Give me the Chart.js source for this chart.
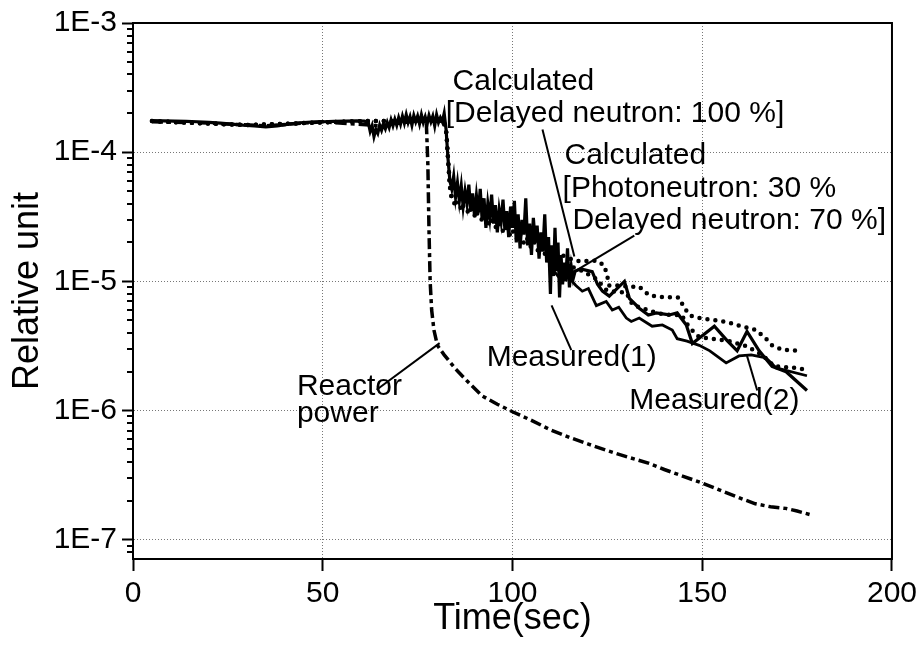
<!DOCTYPE html>
<html>
<head>
<meta charset="utf-8">
<script src="https://cdn.jsdelivr.net/npm/chart.js@4.4.1/dist/chart.umd.min.js"></script>
<style>
  html, body { margin: 0; padding: 0; background: #fff; }
  canvas { display: block; }
</style>
</head>
<body>
<canvas id="chart" width="922" height="647"></canvas>
<script>
// axis setup
const xTicks = [0, 50, 100, 150, 200];
const yDecades = [1e-7, 1e-6, 1e-5, 1e-4, 1e-3];
const yTickLabels = ['1E-7', '1E-6', '1E-5', '1E-4', '1E-3'];
const yMin = 7.1e-8, yMax = 1e-3;

// [time (sec), relative unit]
const measured1 = [
  [5,1.76e-4],[8,1.75e-4],[11,1.74e-4],[14,1.73e-4],[17,1.72e-4],[20,1.7e-4],[23,1.68e-4],[26,1.65e-4],
  [29,1.62e-4],[32,1.6e-4],[35,1.57e-4],[38,1.6e-4],[41,1.65e-4],[44,1.69e-4],[47,1.71e-4],[50,1.72e-4],
  [53,1.73e-4],[56,1.74e-4],[59,1.75e-4],[61,1.74e-4],[62,1.7e-4],
  [62.5,1.45e-4],[63,1.6e-4],[63.5,1.32e-4],[64,1.5e-4],[64.5,1.4e-4],[65,1.62e-4],[65.5,1.48e-4],[66,1.65e-4],
  [66.5,1.52e-4],[67,1.7e-4],[67.5,1.55e-4],[68,1.78e-4],[68.5,1.6e-4],[69,1.8e-4],[69.5,1.62e-4],[70,1.85e-4],
  [70.5,1.65e-4],[71,1.9e-4],[71.5,1.68e-4],[72,1.95e-4],[72.5,1.7e-4],[73,1.88e-4],[73.5,1.62e-4],[74,1.92e-4],
  [74.5,1.72e-4],[75,1.9e-4],[75.5,1.66e-4],[76,1.95e-4],[76.5,1.7e-4],[77,1.88e-4],[77.5,1.65e-4],[78,1.92e-4],
  [78.5,1.72e-4],[79,1.9e-4],[79.5,1.6e-4],[80,1.95e-4],[80.5,1.7e-4],[81,1.85e-4],[81.5,1.72e-4],[82,2.0e-4],
  [82.5,1.5e-4],[83,9.0e-5],[83.5,6.0e-5],
  [84,5.2e-5],[84.5,6.5e-5],[85,4.5e-5],[85.5,5.8e-5],[86,4.2e-5],[86.5,5.5e-5],[87,3.8e-5],[87.5,5.0e-5],
  [88,4.0e-5],[88.5,5.6e-5],[89,3.5e-5],[89.5,4.8e-5],[90,3.2e-5],[90.5,4.6e-5],[91,3.4e-5],[91.5,5.2e-5],
  [92,3.0e-5],[92.5,4.4e-5],[93,2.6e-5],[93.5,4.0e-5],[94,3.1e-5],[94.5,4.7e-5],[95,2.8e-5],[95.5,3.9e-5],
  [96,2.4e-5],[96.5,3.6e-5],[97,2.9e-5],[97.5,4.3e-5],[98,2.5e-5],[98.5,3.5e-5],[99,2.2e-5],[99.5,3.8e-5],
  [100,2.6e-5],[100.5,4.2e-5],[101,2.0e-5],[101.5,3.3e-5],[102,1.8e-5],[102.5,3.0e-5],[103,2.3e-5],[103.5,4.4e-5],
  [104,1.9e-5],[104.5,2.8e-5],[105,1.6e-5],[105.5,3.1e-5],[106,2.0e-5],[106.5,2.7e-5],[107,1.5e-5],[107.5,2.4e-5],
  [108,1.7e-5],[108.5,3.3e-5],[109,1.4e-5],[109.5,2.2e-5],[110,8.0e-6],[110.3,1.9e-5],[110.8,1.1e-5],[111.2,2.6e-5],
  [111.6,1.2e-5],[112,2.0e-5],[112.4,7.5e-6],[112.8,1.6e-5],[113.2,9.5e-6],[113.6,1.4e-5],[114,1.0e-5],[114.5,1.8e-5],
  [115,9.0e-6],[115.5,1.3e-5],[116,1.05e-5],[116.5,1.2e-5],
  [118,1.25e-5],[121,1.19e-5],[122.4,9.5e-6],[123.7,8.4e-6],[125.5,7.7e-6],[129.5,1.0e-5],[130.8,7.4e-6],
  [133.4,6.2e-6],[135.8,5.5e-6],[137.9,5.7e-6],[141.3,5.5e-6],[143.4,5.7e-6],[145.8,4.6e-6],[147.4,3.3e-6],
  [150,3.8e-6],[153.2,4.5e-6],[156.5,3.5e-6],[159.2,2.9e-6],[161.8,4.1e-6],[165,2.9e-6],[168.4,2.2e-6],
  [172.1,2.0e-6],[177.6,1.43e-6]
];

const measured2 = [
  [110,1.3e-5],[112.5,1.05e-5],[114.5,1.1e-5],[116.7,9.3e-6],[118.4,8.4e-6],[120,8.8e-6],[122.1,6.5e-6],
  [124.7,7.0e-6],[126.3,6.0e-6],[128,6.3e-6],[130,5.2e-6],[131.3,4.9e-6],[133.4,5.2e-6],[136.8,4.5e-6],
  [139.5,4.6e-6],[142.1,4.2e-6],[143.4,3.6e-6],[146,3.45e-6],[149.2,3.2e-6],[152,2.9e-6],[156.3,2.34e-6],
  [159.7,2.65e-6],[162.9,2.7e-6],[166.8,2.56e-6],[169.5,2.14e-6],[177.6,1.86e-6]
];

const calcDelayed100 = [
  [5,1.74e-4],[30,1.62e-4],[60,1.74e-4],[82,1.75e-4],[82.6,1.4e-4],[83,9e-5],[83.5,5.6e-5],[84,4.5e-5],
  [85,4.1e-5],[88,3.7e-5],[92,3.2e-5],[96,2.8e-5],[100,2.45e-5],[105,2.05e-5],[110,1.75e-5],[114,1.55e-5],
  [116.3,1.45e-5],[118.4,1.43e-5],[122.1,1.45e-5],[124.2,1.33e-5],[125,1.09e-5],[125.5,9.3e-6],[127.4,9.3e-6],
  [130.8,9.1e-6],[133.4,9.1e-6],[136,7.8e-6],[138.7,7.6e-6],[143.9,7.5e-6],[145.3,6.2e-6],[147.1,5.4e-6],
  [149.2,5.2e-6],[153.7,5.0e-6],[157.1,4.8e-6],[158.9,4.6e-6],[161.6,4.4e-6],[164.2,4.2e-6],[166.8,3.6e-6],
  [168.4,3.2e-6],[171.1,2.95e-6],[176.1,2.9e-6]
];

const calcPhoto30 = [
  [5,1.74e-4],[30,1.62e-4],[60,1.74e-4],[82,1.75e-4],[82.6,1.4e-4],[83,9e-5],[83.5,5.4e-5],[84,4.3e-5],
  [85,3.9e-5],[88,3.5e-5],[92,3.0e-5],[96,2.6e-5],[100,2.25e-5],[105,1.85e-5],[110,1.55e-5],[114,1.35e-5],
  [118,1.22e-5],[122,1.05e-5],[124.7,8.6e-6],[127,8.3e-6],[130,8.2e-6],[131.6,6.6e-6],[134.2,6.2e-6],
  [137.9,5.7e-6],[141.3,5.5e-6],[144.5,5.5e-6],[146.6,4.4e-6],[149.2,3.7e-6],[152.6,3.6e-6],[157.1,3.45e-6],
  [161.6,3.16e-6],[165.8,2.7e-6],[169,2.2e-6],[174.7,2.14e-6],[177.4,2.07e-6]
];

const reactorPower = [
  [5,1.72e-4],[20,1.68e-4],[35,1.6e-4],[50,1.72e-4],[65,1.6e-4],[75,1.75e-4],[77.3,1.7e-4],[77.7,8e-5],
  [78.0,2.5e-5],[78.3,1.0e-5],[78.7,6.0e-6],[79.3,4.2e-6],[80.2,3.2e-6],[82,2.7e-6],[85,2.1e-6],[88,1.7e-6],
  [92,1.3e-6],[96,1.12e-6],[100,9.8e-7],[105,8.4e-7],[110,7.1e-7],[115,6.2e-7],[120,5.5e-7],[125,4.9e-7],
  [130,4.4e-7],[136,3.9e-7],[140,3.5e-7],[145,3.1e-7],[150,2.75e-7],[155,2.4e-7],[160,2.1e-7],[164,1.9e-7],
  [168,1.8e-7],[172,1.75e-7],[175,1.67e-7],[179,1.55e-7]
];

// annotation texts and leader lines, placed in data units
const annotationTexts = [
  { text: 'Calculated', t: 84.2, v: 3.05e-4 },
  { text: '[Delayed neutron: 100 %]', t: 82.4, v: 1.70e-4 },
  { text: 'Calculated', t: 113.7, v: 8.1e-5 },
  { text: '[Photoneutron: 30 %', t: 113.2, v: 4.5e-5 },
  { text: 'Delayed neutron: 70 %]', t: 115.8, v: 2.56e-5 },
  { text: 'Measured(1)', t: 93.2, v: 2.22e-6 },
  { text: 'Measured(2)', t: 130.8, v: 1.02e-6 },
  { text: 'Reactor', t: 43.2, v: 1.33e-6 },
  { text: 'power', t: 43.2, v: 8.1e-7 }
];
const leaderLines = [
  [107.9, 1.5e-4, 116.3, 1.56e-5],
  [132.1, 2.26e-5, 116.3, 1.19e-5],
  [115.5, 2.94e-6, 110.3, 6.53e-6],
  [164.5, 1.43e-6, 161.8, 2.65e-6],
  [64.2, 1.45e-6, 80.8, 3.33e-6]
];

const FONT = '"Liberation Sans", Arial, sans-serif';
const toXY = arr => arr.map(p => ({ x: p[0], y: p[1] }));

const annotate = {
  id: 'annotate',
  afterDatasetsDraw(chart) {
    const { ctx, scales: { x, y } } = chart;
    ctx.save();
    ctx.strokeStyle = '#000';
    ctx.lineWidth = 2;
    leaderLines.forEach(l => {
      ctx.beginPath();
      ctx.moveTo(x.getPixelForValue(l[0]), y.getPixelForValue(l[1]));
      ctx.lineTo(x.getPixelForValue(l[2]), y.getPixelForValue(l[3]));
      ctx.stroke();
    });
    ctx.fillStyle = '#000';
    ctx.font = '30px ' + FONT;
    ctx.textBaseline = 'alphabetic';
    annotationTexts.forEach(a => {
      ctx.fillText(a.text, x.getPixelForValue(a.t), y.getPixelForValue(a.v));
    });
    ctx.restore();
  },
  afterDraw(chart) {
    const { ctx, chartArea: ca, scales: { y } } = chart;
    ctx.save();
    ctx.strokeStyle = '#000';
    ctx.lineWidth = 2;
    // minor log ticks on the left axis
    y.ticks.forEach(tk => {
      if (tk.major) return;
      const p = Math.round(y.getPixelForValue(tk.value));
      ctx.beginPath();
      ctx.moveTo(ca.left - 6, p);
      ctx.lineTo(ca.left, p);
      ctx.stroke();
    });
    ctx.strokeRect(ca.left, ca.top, ca.right - ca.left, ca.bottom - ca.top);
    ctx.restore();
  }
};

const lineSet = (data, extra) => Object.assign({
  data: toXY(data),
  borderColor: '#000',
  borderWidth: 2.5,
  pointRadius: 0,
  tension: 0,
  fill: false
}, extra);

new Chart(document.getElementById('chart').getContext('2d'), {
  type: 'line',
  data: {
    datasets: [
      lineSet(reactorPower, { label: 'Reactor power', borderWidth: 3.5, borderDash: [11, 4, 4, 4] }),
      lineSet(calcDelayed100, { label: 'Calculated DN 100%', borderWidth: 4.5, borderDash: [0, 8], borderCapStyle: 'round' }),
      lineSet(calcPhoto30, { label: 'Calculated PN 30%', borderWidth: 4.5, borderDash: [0, 8], borderCapStyle: 'round' }),
      lineSet(measured2, { label: 'Measured(2)', borderWidth: 2.8 }),
      lineSet(measured1, { label: 'Measured(1)', borderWidth: 3.2 })
    ]
  },
  options: {
    responsive: false,
    animation: false,
    layout: { padding: { top: 23, right: 29, left: 0, bottom: 0 } },
    plugins: { legend: { display: false }, tooltip: { enabled: false } },
    scales: {
      x: {
        type: 'linear',
        min: 0,
        max: 200,
        afterFit(s) { s.height = 88; },
        afterBuildTicks(s) { s.ticks = xTicks.map(v => ({ value: v })); },
        ticks: { color: '#000', font: { family: FONT, size: 30 }, padding: 5, maxRotation: 0 },
        grid: {
          color: c => (c.tick && (c.tick.value === 0 || c.tick.value === 200)) ? 'rgba(0,0,0,0)' : '#777',
          lineWidth: 1,
          tickLength: 12,
          tickColor: '#000',
          tickWidth: 2
        },
        border: { color: '#000', width: 2, dash: [1, 2] },
        title: { display: true, text: 'Time(sec)', color: '#000', font: { family: FONT, size: 36 }, padding: { top: 0, bottom: 6 } }
      },
      y: {
        type: 'logarithmic',
        min: yMin,
        max: yMax,
        afterFit(s) { s.width = 133; },
        afterBuildTicks(s) {
          const ticks = [];
          for (let e = -8; e <= -4; e++) {
            for (let m = 1; m <= 9; m++) {
              const v = m * Math.pow(10, e);
              if (v >= yMin && v <= yMax) ticks.push({ value: v, major: m === 1 });
            }
          }
          ticks.push({ value: 1e-3, major: true });
          s.ticks = ticks;
        },
        ticks: {
          autoSkip: false,
          color: '#000',
          font: { family: FONT, size: 30 },
          padding: 5,
          callback(val, i, ticks) {
            if (!ticks[i].major) return '';
            const idx = yDecades.findIndex(d => Math.abs(Math.log10(d) - Math.log10(val)) < 1e-6);
            return idx >= 0 ? yTickLabels[idx] : '';
          }
        },
        grid: {
          color: c => (c.tick && c.tick.major && c.tick.value < 5e-4) ? '#777' : 'rgba(0,0,0,0)',
          lineWidth: 1,
          tickLength: 11,
          tickColor: c => (c.tick && c.tick.major) ? '#000' : 'rgba(0,0,0,0)',
          tickWidth: 2
        },
        border: { color: '#000', width: 2, dash: [1, 2] },
        title: { display: true, text: 'Relative unit', color: '#000', font: { family: FONT, size: 36 }, padding: { top: 6, bottom: 0 } }
      }
    }
  },
  plugins: [annotate]
});
</script>
</body>
</html>
